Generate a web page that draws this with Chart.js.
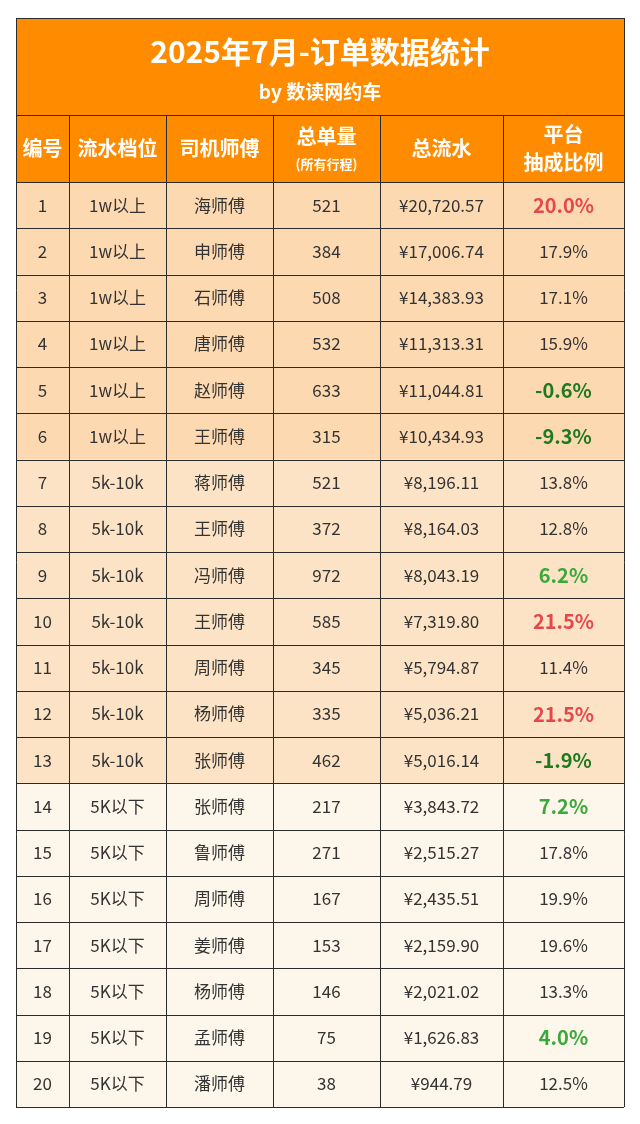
<!DOCTYPE html>
<html>
<head>
<meta charset="utf-8">
<script src="https://cdn.jsdelivr.net/npm/chart.js@4"></script>
<style>
  body { margin: 0; background: #fff; }
</style>
</head>
<body>
<canvas id="c" width="640" height="1124"></canvas>
<script>
// 表格数据
const titleText = "2025年7月-订单数据统计";
const subTitle = "by 数读网约车";
const headers = ["编号", "流水档位", "司机师傅", "总单量", "总流水", "平台\n抽成比例"];
const headerSub = ["", "", "", "(所有行程)", "", ""];
const ids = [1,2,3,4,5,6,7,8,9,10,11,12,13,14,15,16,17,18,19,20];
const tiers = ["1w以上","1w以上","1w以上","1w以上","1w以上","1w以上",
  "5k-10k","5k-10k","5k-10k","5k-10k","5k-10k","5k-10k","5k-10k",
  "5K以下","5K以下","5K以下","5K以下","5K以下","5K以下","5K以下"];
const drivers = ["海师傅","申师傅","石师傅","唐师傅","赵师傅","王师傅","蒋师傅","王师傅","冯师傅","王师傅",
  "周师傅","杨师傅","张师傅","张师傅","鲁师傅","周师傅","姜师傅","杨师傅","孟师傅","潘师傅"];
const orders = [521,384,508,532,633,315,521,372,972,585,345,335,462,217,271,167,153,146,75,38];
const revenue = [20720.57,17006.74,14383.93,11313.31,11044.81,10434.93,8196.11,8164.03,8043.19,7319.80,
  5794.87,5036.21,5016.14,3843.72,2515.27,2435.51,2159.90,2021.02,1626.83,944.79];
const rates = [20.0,17.9,17.1,15.9,-0.6,-9.3,13.8,12.8,6.2,21.5,11.4,21.5,-1.9,7.2,17.8,19.9,19.6,13.3,4.0,12.5];

// 版式
const colEdges = [0, 53, 150, 257, 364, 487, 608];
const titleRows = 2.1, headerRows = 1.45;
const tierColor = { "1w以上": "#fdd9b2", "5k-10k": "#fde3c5", "5K以下": "#fdf6ea" };
const FONT = '"Noto Sans CJK SC", "Noto Sans", sans-serif';

function fmtMoney(v) {
  return "¥" + v.toLocaleString("en-US", { minimumFractionDigits: 2, maximumFractionDigits: 2 });
}
function rateStyle(r) {
  if (r < 0) return { color: "#1f7a1f", bold: true };
  if (r < 10) return { color: "#3aa83a", bold: true };
  if (r >= 20) return { color: "#e5474b", bold: true };
  return { color: "#333", bold: false };
}

const tablePlugin = {
  id: "table",
  beforeDatasetsDraw(chart) {
    const { ctx } = chart;
    const x = chart.scales.x, y = chart.scales.y;
    const X = v => x.getPixelForValue(v), Y = v => y.getPixelForValue(v);
    const left = X(colEdges[0]), right = X(colEdges[colEdges.length - 1]);
    const top = Y(-titleRows - headerRows), hTop = Y(-headerRows), dTop = Y(0);
    ctx.save();
    // 标题
    ctx.fillStyle = "#ff8c00";
    ctx.fillRect(left, top, right - left, dTop - top);
    ctx.fillStyle = "#fff";
    ctx.textAlign = "center";
    ctx.textBaseline = "middle";
    ctx.font = "bold 30px " + FONT;
    ctx.fillText(titleText, (left + right) / 2, Y(-titleRows - headerRows + 0.72));
    ctx.font = "bold 19px " + FONT;
    ctx.fillText(subTitle, (left + right) / 2, Y(-titleRows - headerRows + 1.6));
    // 表头
    headers.forEach((h, i) => {
      const cx = (X(colEdges[i]) + X(colEdges[i + 1])) / 2;
      const cy = (hTop + dTop) / 2;
      ctx.font = "bold 20px " + FONT;
      const lines = h.split("\n");
      if (lines.length > 1) {
        ctx.fillText(lines[0], cx, cy - 14);
        ctx.fillText(lines[1], cx, cy + 14);
      } else if (headerSub[i]) {
        ctx.fillText(h, cx, cy - 12);
        ctx.font = "bold 13px " + FONT;
        ctx.fillText(headerSub[i], cx, cy + 15);
      } else {
        ctx.fillText(h, cx, cy);
      }
    });
    // 数据行
    ids.forEach((id, r) => {
      const y0 = Y(r), y1 = Y(r + 1), cy = (y0 + y1) / 2;
      ctx.fillStyle = tierColor[tiers[r]];
      ctx.fillRect(left, y0, right - left, y1 - y0);
      const cells = [String(id), tiers[r], drivers[r], String(orders[r]), fmtMoney(revenue[r]), rates[r].toFixed(1) + "%"];
      cells.forEach((t, i) => {
        const cx = (X(colEdges[i]) + X(colEdges[i + 1])) / 2;
        if (i === 5) {
          const s = rateStyle(rates[r]);
          ctx.fillStyle = s.color;
          ctx.font = (s.bold ? "bold 20px " : "17px ") + FONT;
        } else {
          ctx.fillStyle = "#333";
          ctx.font = "17px " + FONT;
        }
        ctx.fillText(t, cx, cy);
      });
    });
    // 网格线
    ctx.strokeStyle = "#2b2b2b";
    ctx.lineWidth = 1;
    ctx.beginPath();
    for (let r = 0; r <= ids.length; r++) {
      ctx.moveTo(left, Math.round(Y(r)) + 0.5); ctx.lineTo(right, Math.round(Y(r)) + 0.5);
    }
    ctx.moveTo(left, Math.round(hTop) + 0.5); ctx.lineTo(right, Math.round(hTop) + 0.5);
    colEdges.forEach((c, i) => {
      const px = Math.round(X(c)) + 0.5;
      const start = (i === 0 || i === colEdges.length - 1) ? top : hTop;
      ctx.moveTo(px, start); ctx.lineTo(px, Y(ids.length));
    });
    ctx.moveTo(left, top + 0.5); ctx.lineTo(right, top + 0.5);
    ctx.stroke();
    ctx.restore();
  }
};

new Chart(document.getElementById("c").getContext("2d"), {
  type: "scatter",
  data: { datasets: [{ data: [], pointRadius: 0 }] },
  options: {
    responsive: false,
    animation: false,
    layout: { padding: { left: 16, right: 16, top: 18, bottom: 17 } },
    plugins: { legend: { display: false }, tooltip: { enabled: false } },
    scales: {
      x: { type: "linear", min: colEdges[0], max: colEdges[colEdges.length - 1], display: false },
      y: { type: "linear", reverse: true, min: -titleRows - headerRows, max: ids.length, display: false }
    }
  },
  plugins: [tablePlugin]
});
</script>
</body>
</html>
